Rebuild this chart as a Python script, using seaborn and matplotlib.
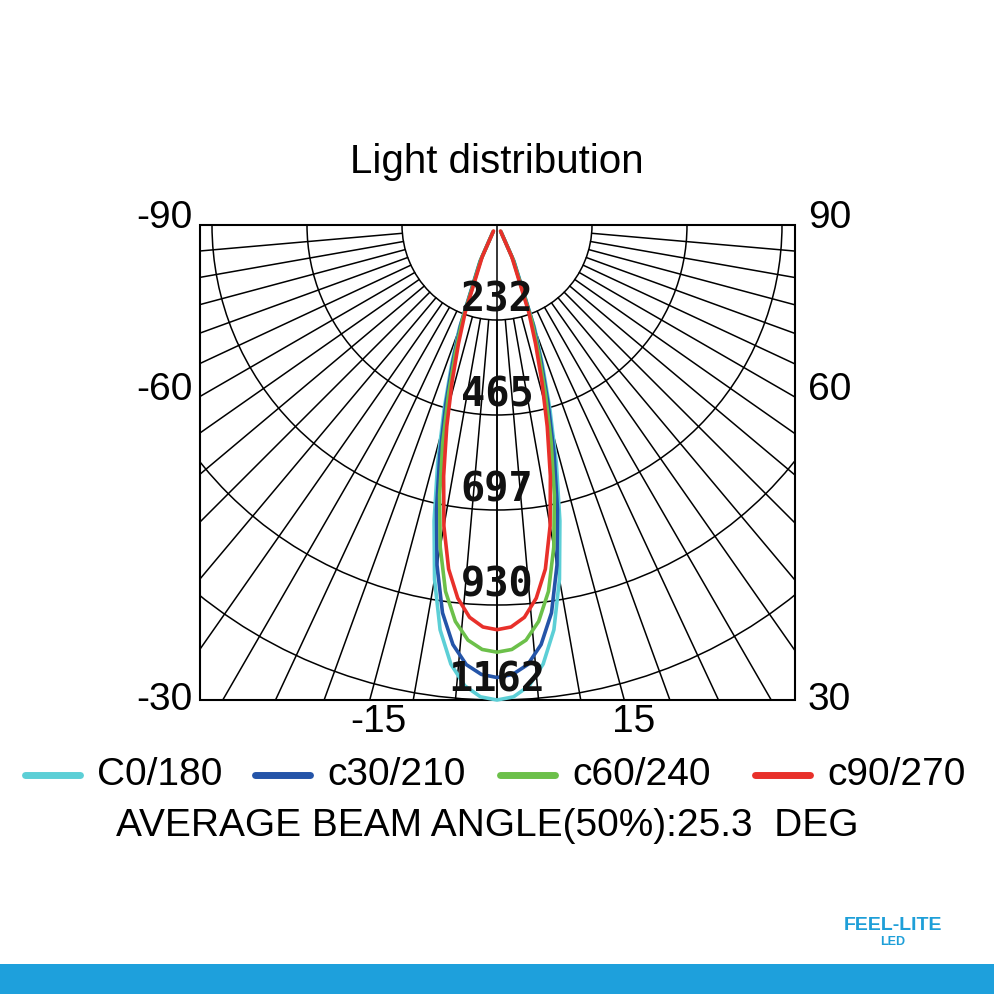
import numpy as np
import pandas as pd
import matplotlib
matplotlib.use("Agg")
import matplotlib.pyplot as plt
import seaborn as sns
from matplotlib.patches import Rectangle, Arc

sns.set_style("white")
plt.rcParams['font.family'] = ['Liberation Sans', 'DejaVu Sans']

# intensity (cd) vs angle (deg) for each C-plane
angles = [0, 2, 4, 6, 8, 10, 12, 14, 16, 18, 20, 25, 30]
c0_180 = [1162, 1155, 1130, 1080, 1000, 880, 740, 600, 470, 360, 270, 100, 20]
c30_210 = [1107, 1100, 1078, 1032, 958, 845, 712, 578, 453, 347, 260, 96, 19]
c60_240 = [1045, 1039, 1018, 975, 905, 800, 675, 548, 430, 330, 248, 92, 18]
c90_270 = [990, 984, 962, 918, 850, 748, 628, 508, 398, 305, 228, 85, 17]
series = {"C0/180": (c0_180, "#5ccfd6"), "c30/210": (c30_210, "#2454a8"),
          "c60/240": (c60_240, "#6cc04a"), "c90/270": (c90_270, "#e8302a")}
ring_labels = ["232", "465", "697", "930", "1162"]
ring_values = [232.4, 464.8, 697.2, 929.6, 1162]

fig = plt.figure(figsize=(9.94, 9.94), dpi=100)
ax = fig.add_axes([0, 0, 1, 1])

cx, cy = 497, 225
scale = 475 / 1162
L, R, T, B = 200, 795, 225, 700
clip = Rectangle((L, T), R - L, B - T, transform=ax.transData)

# grid: rings and radials
for v in ring_values + [1394.4]:
    r = v * scale
    a = Arc((cx, cy), 2 * r, 2 * r, theta1=0, theta2=180, color="black", lw=1.1)
    ax.add_patch(a); a.set_clip_path(clip)
r0 = ring_values[0] * scale
for d in range(-90, 91, 5):
    t = np.radians(d)
    x2, y2 = cx + 900 * np.sin(t), cy + 900 * np.cos(t)
    ln, = ax.plot([cx + r0 * np.sin(t), x2], [cy + r0 * np.cos(t), y2], color="black", lw=1.1)
    ln.set_clip_path(clip)
ax.plot([cx, cx], [cy, B], color="black", lw=1.1)
ax.add_patch(Rectangle((L, T), R - L, B - T, fill=False, ec="black", lw=1.5))

# curves
rows = []
for name, (vals, col) in series.items():
    a = np.array([-x for x in angles[::-1]] + angles[1:])
    v = np.array(vals[::-1] + vals[1:]) * scale
    th = np.radians(a)
    rows.append(pd.DataFrame({"x": cx + v * np.sin(th), "y": cy + v * np.cos(th), "s": name}))
df = pd.concat(rows)
for name, (vals, col) in series.items():
    sns.lineplot(data=df[df.s == name], x="x", y="y", sort=False, color=col, lw=2.6, ax=ax, legend=False)
ax.set_xlim(0, 994); ax.set_ylim(994, 0); ax.axis("off")

for lab, v in zip(ring_labels, ring_values):
    ax.text(cx, cy + v * scale - 20, lab, ha="center", va="center", fontsize=29,
            fontweight="bold", family="DejaVu Sans Mono", color="#111111")

fs = 28
ax.text(497, 162, "Light distribution", ha="center", va="center", fontsize=29, color="black")
for lab, y in [("-90", 218), ("-60", 390), ("-30", 700)]:
    ax.text(193, y, lab, ha="right", va="center", fontsize=fs, color="black")
for lab, y in [("90", 218), ("60", 390), ("30", 700)]:
    ax.text(808, y, lab, ha="left", va="center", fontsize=fs, color="black")
ax.text(378, 722, "-15", ha="center", va="center", fontsize=fs, color="black")
ax.text(634, 722, "15", ha="center", va="center", fontsize=fs, color="black")

for (name, (vals, col)), x0 in zip(series.items(), [25, 255, 500, 755]):
    ax.plot([x0, x0 + 55], [775, 775], color=col, lw=5, solid_capstyle="round")
    ax.text(x0 + 72, 775, name, ha="left", va="center", fontsize=fs, color="black")
ax.text(487, 826, "AVERAGE BEAM ANGLE(50%):25.3  DEG", ha="center", va="center", fontsize=fs, color="black")

ax.text(893, 925, "FEEL-LITE", ha="center", va="center", fontsize=14, color="#1e9fd8", fontweight="bold")
ax.text(893, 942, "LED", ha="center", va="center", fontsize=9, color="#1e9fd8", fontweight="bold")
ax.add_patch(Rectangle((0, 964), 994, 30, color="#1ea0dc", lw=0))

fig.savefig("out.png", dpi=100)
